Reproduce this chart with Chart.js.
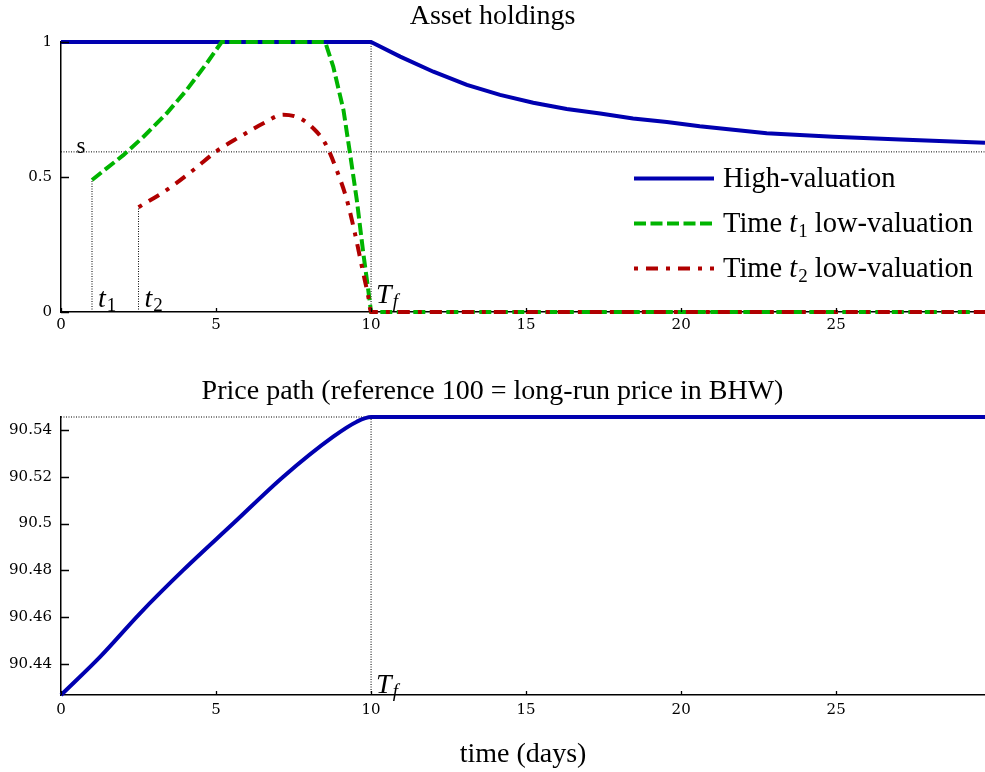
<!DOCTYPE html>
<html><head><meta charset="utf-8">
<script src="https://cdn.jsdelivr.net/npm/chart.js@4.4.0/dist/chart.umd.min.js"></script>
<style>
html,body{margin:0;padding:0;background:#fff;}
#wrap{position:relative;width:985px;height:772px;background:#fff;}
canvas{position:absolute;left:0;}
#c1{top:0;}
#c2{top:345px;}
</style></head><body>
<div id="wrap">
<canvas id="c1" width="985" height="345"></canvas>
<canvas id="c2" width="985" height="427"></canvas>
</div>
<script>
// ---- data ----
const xTicks = [0, 5, 10, 15, 20, 25];
const xTickLabels = ['0', '5', '10', '15', '20', '25'];
const holdTicksY = [0, 0.5, 1];
const holdTickLabels = ['0', '0.5', '1'];
const priceTicksY = [90.44, 90.46, 90.48, 90.5, 90.52, 90.54];
const priceTickLabels = ['90.44', '90.46', '90.48', '90.5', '90.52', '90.54'];

const T_MAX = 29.8;
const T1 = 1.0, T2 = 2.5, TF = 10;
const S_LEVEL = 0.593;
const PRICE_MIN = 90.4268, PRICE_MAX = 90.5455;

const highTime = [0, 10, 10.94, 12.01, 13.09, 14.16, 15.23, 16.31, 17.39, 18.45, 19.54, 20.6, 22.76, 24.9, 27.06, 29.8];
const highHold = [1, 1, 0.946, 0.890, 0.841, 0.804, 0.775, 0.752, 0.735, 0.717, 0.704, 0.688, 0.662, 0.649, 0.639, 0.627];
const low1Time = [1, 1.47, 2.01, 2.66, 3.41, 4.05, 4.70, 5.18, 8.52, 8.78, 9.11, 9.32, 9.54, 9.75, 9.91, 10, 29.8];
const low1Hold = [0.489, 0.532, 0.581, 0.649, 0.736, 0.822, 0.921, 1, 1, 0.909, 0.748, 0.588, 0.415, 0.217, 0.081, 0, 0];
const low2Time = [2.5, 3.41, 4.27, 5.02, 5.77, 6.53, 7.17, 7.71, 8.14, 8.52, 8.89, 9.22, 9.48, 9.75, 9.91, 10, 29.8];
const low2Hold = [0.388, 0.452, 0.526, 0.596, 0.649, 0.699, 0.731, 0.717, 0.680, 0.625, 0.526, 0.415, 0.291, 0.143, 0.057, 0, 0];
const priceTime = [0, 1.26, 2.55, 3.95, 5.56, 7.17, 8.78, 9.54, 10, 29.8];
const priceLevel = [90.4268, 90.4431, 90.4617, 90.4802, 90.5001, 90.5200, 90.5371, 90.5435, 90.5455, 90.5455];

const legendLabels = [
  [['High-valuation', 'r']],
  [['Time ', 'r'], ['t', 'i'], ['1', 'sub'], [' low-valuation', 'r']],
  [['Time ', 'r'], ['t', 'i'], ['2', 'sub'], [' low-valuation', 'r']]
];

// ---- styling ----
const BLUE = '#0000b0', GREEN = '#00b400', RED = '#b00000';
const SERIF = "'Liberation Serif', serif";
const TICKFONT = "'DejaVu Serif', serif";
const LW = 4;

const pts = (xs, ys) => xs.map((x, i) => ({ x, y: ys[i] }));

function drawParts(ctx, x, base, parts, size) {
  let cx = x;
  parts.forEach(([txt, st]) => {
    let f, dy = 0;
    if (st === 'r') f = `${size}px ${SERIF}`;
    else if (st === 'i') f = `italic ${size}px ${SERIF}`;
    else if (st === 'sub') { f = `${Math.round(size * 0.68)}px ${SERIF}`; dy = size * 0.16; }
    else if (st === 'isub') { f = `italic ${Math.round(size * 0.68)}px ${SERIF}`; dy = size * 0.16; }
    ctx.font = f;
    ctx.fillText(txt, cx, base + dy);
    cx += ctx.measureText(txt).width + (st === 'i' ? 1 : 0);
  });
}

const innerTicks = {
  id: 'innerTicks',
  afterDatasetsDraw(chart) {
    const { ctx, chartArea: a, scales: { x, y } } = chart;
    ctx.save();
    ctx.strokeStyle = '#000';
    ctx.lineWidth = 1.3;
    ctx.beginPath();
    x.ticks.forEach(t => {
      const p = Math.round(x.getPixelForValue(t.value)) + 0.5;
      ctx.moveTo(p, a.bottom); ctx.lineTo(p, a.bottom - 4);
    });
    y.ticks.forEach(t => {
      const p = Math.round(y.getPixelForValue(t.value)) + 0.5;
      ctx.moveTo(a.left, p); ctx.lineTo(a.left + 8, p);
    });
    ctx.stroke();
    ctx.restore();
  }
};

const holdLabels = {
  id: 'holdLabels',
  afterDraw(chart) {
    const { ctx, scales: { x, y } } = chart;
    ctx.save();
    ctx.fillStyle = '#000';
    ctx.textBaseline = 'alphabetic';
    ctx.textAlign = 'left';
    ctx.font = `23px ${SERIF}`;
    ctx.fillText('s', x.getPixelForValue(0.5), y.getPixelForValue(S_LEVEL) + 1);
    const base0 = y.getPixelForValue(0) - 5;
    drawParts(ctx, x.getPixelForValue(T1) + 6, base0, [['t', 'i'], ['1', 'sub']], 28);
    drawParts(ctx, x.getPixelForValue(T2) + 6, base0, [['t', 'i'], ['2', 'sub']], 28);
    drawParts(ctx, x.getPixelForValue(TF) + 5, base0 - 4, [['T', 'i'], ['f', 'isub']], 28);
    // legend
    const ds = chart.data.datasets;
    const order = [2, 1, 0];
    const lx0 = 634, lx1 = 714, tx = 723;
    const bases = [187, 232, 277];
    order.forEach((di, row) => {
      const d = ds[di];
      const ly = bases[row] - 8.5;
      ctx.save();
      ctx.strokeStyle = d.borderColor;
      ctx.lineWidth = d.borderWidth;
      ctx.setLineDash(d.borderDash || []);
      ctx.lineDashOffset = d.borderDashOffset || 0;
      ctx.beginPath(); ctx.moveTo(lx0, ly); ctx.lineTo(lx1, ly); ctx.stroke();
      ctx.restore();
      drawParts(ctx, tx, bases[row], legendLabels[row], 28.5);
    });
    ctx.restore();
  }
};

const priceLabels = {
  id: 'priceLabels',
  afterDraw(chart) {
    const { ctx, scales: { x, y } } = chart;
    ctx.save();
    ctx.fillStyle = '#000';
    ctx.textAlign = 'left';
    ctx.textBaseline = 'alphabetic';
    drawParts(ctx, x.getPixelForValue(TF) + 5, y.getPixelForValue(PRICE_MIN) - 2, [['T', 'i'], ['f', 'isub']], 28);
    ctx.restore();
  }
};

function xScale(height, pad, title) {
  const s = {
    type: 'linear', min: 0, max: T_MAX,
    afterBuildTicks: sc => { sc.ticks = xTicks.map(v => ({ value: v })); },
    afterFit: sc => { sc.height = height; },
    ticks: { font: { family: TICKFONT, size: 15 }, color: '#000', padding: pad, maxRotation: 0, autoSkip: false,
      callback: v => xTickLabels[xTicks.indexOf(v)] },
    grid: { display: false, drawTicks: false },
    border: { display: true, color: '#000', width: 1.5 }
  };
  if (title) s.title = { display: true, text: title, color: '#000', font: { family: SERIF, size: 28, lineHeight: 1 }, padding: { top: 0, bottom: 3 } };
  return s;
}
function yScale(min, max, ticks, labels) {
  return {
    type: 'linear', min, max,
    afterBuildTicks: sc => { sc.ticks = ticks.map(v => ({ value: v })); },
    afterFit: sc => { sc.width = 61; },
    ticks: { font: { family: TICKFONT, size: 15 }, color: '#000', padding: 9,
      callback: v => { const i = ticks.findIndex(t => Math.abs(t - v) < 1e-9); return i >= 0 ? labels[i] : ''; } },
    grid: { display: false, drawTicks: false },
    border: { display: true, color: '#000', width: 1.5 }
  };
}
const dotted = (data) => ({ data, borderColor: '#000', borderWidth: 1, borderDash: [1, 1.5], pointRadius: 0, tension: 0, order: 10, fill: false, clip: 3 });

new Chart(document.getElementById('c1'), {
  type: 'line',
  data: {
    datasets: [
      { label: 'Time t2 low-valuation', data: pts(low2Time, low2Hold), borderColor: RED, borderWidth: LW, borderDash: [12, 8, 4, 8], borderDashOffset: 20, pointRadius: 0, cubicInterpolationMode: 'monotone', order: 0, fill: false, clip: 5 },
      { label: 'Time t1 low-valuation', data: pts(low1Time, low1Hold), borderColor: GREEN, borderWidth: LW, borderDash: [12, 4.5], pointRadius: 0, tension: 0, order: 1, fill: false, clip: 5 },
      { label: 'High-valuation', data: pts(highTime, highHold), borderColor: BLUE, borderWidth: LW, pointRadius: 0, tension: 0, order: 2, fill: false, clip: 5 },
      dotted([{ x: 0, y: S_LEVEL }, { x: T_MAX, y: S_LEVEL }]),
      dotted([{ x: T1, y: 0 }, { x: T1, y: low1Hold[0] }]),
      dotted([{ x: T2, y: 0 }, { x: T2, y: low2Hold[0] }]),
      dotted([{ x: TF, y: 0 }, { x: TF, y: 1 }])
    ]
  },
  options: {
    responsive: false, animation: false,
    layout: { padding: 0 },
    plugins: {
      legend: { display: false }, tooltip: { enabled: false },
      title: { display: true, text: 'Asset holdings', color: '#000', font: { family: SERIF, size: 28, weight: 'normal', lineHeight: 1 }, padding: { top: 3, bottom: 11 } }
    },
    scales: { x: xScale(33, 4), y: yScale(0, 1, holdTicksY, holdTickLabels) }
  },
  plugins: [innerTicks, holdLabels]
});

new Chart(document.getElementById('c2'), {
  type: 'line',
  data: {
    datasets: [
      { label: 'Price', data: pts(priceTime, priceLevel), borderColor: BLUE, borderWidth: LW, pointRadius: 0, cubicInterpolationMode: 'monotone', order: 0, fill: false, clip: 5 },
      dotted([{ x: 0, y: PRICE_MAX }, { x: TF, y: PRICE_MAX }]),
      dotted([{ x: TF, y: PRICE_MIN }, { x: TF, y: PRICE_MAX }])
    ]
  },
  options: {
    responsive: false, animation: false,
    layout: { padding: 0 },
    plugins: {
      legend: { display: false }, tooltip: { enabled: false },
      title: { display: true, text: 'Price path (reference 100 = long-run price in BHW)', color: '#000', font: { family: SERIF, size: 28, weight: 'normal', lineHeight: 1 }, padding: { top: 33, bottom: 11 } }
    },
    scales: { x: xScale(77, 6, 'time (days)'), y: yScale(PRICE_MIN, PRICE_MAX, priceTicksY, priceTickLabels) }
  },
  plugins: [innerTicks, priceLabels]
});
</script>
</body></html>
